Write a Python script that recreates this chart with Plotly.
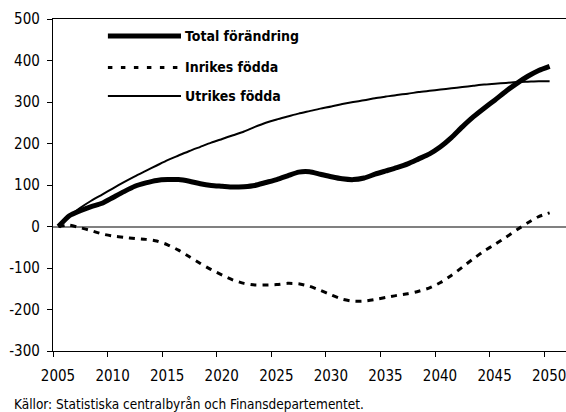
import plotly.graph_objects as go

# Befolkningsförändring sedan 2005, tusental personer
years = list(range(2005, 2051))

total = [0, 26, 38, 48, 56, 70, 84, 97, 105, 111,
         113, 113, 109, 103, 99, 97, 95, 96, 99, 106,
         113, 122, 131, 132, 126, 120, 115, 113, 117, 126,
         134, 142, 151, 163, 175, 192, 214, 240, 264, 285,
         305, 326, 345, 362, 376, 386]

inrikes = [0, 3, -3, -10, -18, -23, -26, -29, -31, -35,
           -44, -57, -73, -89, -104, -117, -129, -137, -141, -141,
           -140, -137, -138, -144, -154, -165, -175, -180, -180, -176,
           -171, -166, -162, -156, -148, -135, -118, -98, -78, -59,
           -43, -26, -8, 9, 24, 33]

utrikes = [0, 25, 45, 62, 77, 92, 107, 121, 134, 147,
           160, 171, 182, 192, 202, 211, 220, 229, 240, 250,
           258, 265, 272, 278, 284, 289, 295, 300, 304, 309,
           313, 317, 320, 324, 327, 330, 333, 336, 339, 342,
           344, 346, 348, 349, 350, 350]

series_names = ["Total förändring", "Inrikes födda", "Utrikes födda"]

x_tick_labels = ["2005", "2010", "2015", "2020", "2025",
                 "2030", "2035", "2040", "2045", "2050"]
y_tick_values = [-300, -200, -100, 0, 100, 200, 300, 400, 500]
y_tick_labels = ["-300", "-200", "-100", "0", "100", "200", "300", "400", "500"]

FONT = "'DejaVu Sans Condensed', 'Roboto Condensed', 'Liberation Sans Narrow', 'Arial Narrow', 'Liberation Sans', sans-serif"

fig = go.Figure()

styles = {
    "Total förändring": dict(color="black", width=5),
    "Inrikes födda": dict(color="black", width=3, dash="6px,6px"),
    "Utrikes födda": dict(color="black", width=2),
}
data = {"Total förändring": total, "Inrikes födda": inrikes, "Utrikes födda": utrikes}

# thin and dashed lines first so the thick total line sits on top
for name in ["Utrikes födda", "Inrikes födda", "Total förändring"]:
    fig.add_trace(go.Scatter(
        x=years, y=data[name], mode="lines", name=name,
        line=dict(shape="spline", smoothing=0.6, **styles[name]),
        showlegend=False, hoverinfo="skip",
    ))

# hand-drawn legend with long line samples
legend_rows_y = [0.949, 0.854, 0.768]
legend_styles = {
    "Total förändring": dict(color="black", width=5),
    "Inrikes födda": dict(color="black", width=3, dash="4.5px,8.5px"),
    "Utrikes födda": dict(color="black", width=2),
}
for name, ly in zip(series_names, legend_rows_y):
    fig.add_shape(type="line", xref="paper", yref="paper",
                  x0=0.107, x1=0.2495, y0=ly, y1=ly,
                  line=legend_styles[name])
    fig.add_annotation(xref="paper", yref="paper", x=0.2535, y=ly,
                       xanchor="left", yanchor="middle", showarrow=False,
                       text=f"<b>{name}</b>",
                       font=dict(family=FONT, size=14, color="black"))

fig.add_annotation(xref="paper", yref="paper", x=-0.079, y=-0.160,
                   xanchor="left", yanchor="middle", showarrow=False,
                   text="Källor: Statistiska centralbyrån och Finansdepartementet.",
                   font=dict(family=FONT, size=13.5, color="black"))

# ticks sit on category boundaries, labels are centred on the years
x_tick_pos = [int(t) - 0.5 for t in x_tick_labels]

fig.update_layout(
    width=566, height=412,
    margin=dict(l=53, r=0, t=19, b=61),
    paper_bgcolor="white", plot_bgcolor="white",
    font=dict(family=FONT, size=15, color="black"),
    xaxis=dict(
        range=[2004.5, 2051.5],
        tickmode="array", tickvals=x_tick_pos, ticktext=x_tick_labels,
        ticklabelshift=5, ticklabelstandoff=6, ticklabeloverflow="allow",
        ticks="outside", ticklen=5, tickwidth=1.3, tickcolor="black",
        showline=True, linecolor="black", linewidth=1.3, mirror=True,
        showgrid=False, zeroline=False,
        tickfont=dict(family=FONT, size=15, color="black"),
    ),
    yaxis=dict(
        range=[-300, 500],
        tickmode="array", tickvals=y_tick_values, ticktext=y_tick_labels,
        ticklabelstandoff=4,
        ticks="outside", ticklen=5, tickwidth=1.3, tickcolor="black",
        showline=True, linecolor="black", linewidth=1.3,
        showgrid=False,
        zeroline=True, zerolinecolor="#808080", zerolinewidth=1.5,
        tickfont=dict(family=FONT, size=15, color="black"),
    ),
)

fig.write_html("out.html")
